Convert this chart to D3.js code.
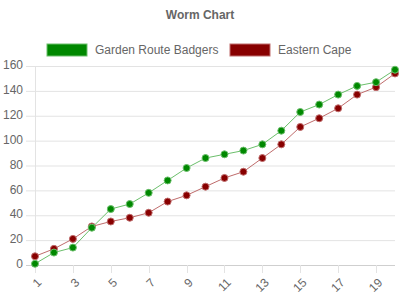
<!DOCTYPE html>
<html>
<head>
<meta charset="utf-8">
<script src="https://cdn.jsdelivr.net/npm/d3@7"></script>
<style>
  body { margin: 0; background: #fff; }
  #chart { width: 400px; height: 300px; }
  text { font-family: "Liberation Sans", Arial, sans-serif; }
</style>
</head>
<body>
<div id="chart"></div>
<script>
// datos
const rounds = d3.range(1, 21);
const seriesNames = ["Garden Route Badgers", "Eastern Cape"];
const badgers = [1, 10, 14, 30, 45, 49, 58, 68, 78, 86, 89, 92, 97, 108, 123, 129, 137, 144, 147, 157];
const easternCape = [7, 13, 21, 31, 35, 38, 42, 51, 56, 63, 70, 75, 86, 97, 111, 118, 126, 137, 143, 154];
const yTicks = [0, 20, 40, 60, 80, 100, 120, 140, 160];
const colors = ["#008800", "#880000"];
const lineColors = ["#6cbf6c", "#bf6c6c"];

const W = 400, H = 300;
const svg = d3.select("#chart").append("svg").attr("width", W).attr("height", H);

// título
svg.append("text")
  .attr("x", W / 2).attr("y", 16)
  .attr("text-anchor", "middle").attr("dominant-baseline", "middle")
  .attr("font-size", 12).attr("font-weight", "bold").attr("fill", "#666")
  .text("Worm Chart");

// leyenda
const legendX = [47, 230];
seriesNames.forEach((name, i) => {
  const g = svg.append("g").attr("transform", `translate(${legendX[i]},44)`);
  g.append("rect").attr("width", 40).attr("height", 12)
    .attr("fill", colors[i]).attr("stroke", lineColors[i]).attr("stroke-width", 1);
  g.append("text").attr("x", 48).attr("y", 6.5)
    .attr("dominant-baseline", "middle").attr("font-size", 12).attr("fill", "#666")
    .text(name);
});

const x = d3.scalePoint().domain(rounds).range([35, 395]);
const y = d3.scaleLinear().domain([0, 160]).range([265, 66]);

// rejilla Y
const gy = svg.append("g");
gy.selectAll("line").data(yTicks).join("line")
  .attr("x1", 26).attr("x2", 395)
  .attr("y1", d => y(d) + 0.5).attr("y2", d => y(d) + 0.5)
  .attr("stroke", d => d === 0 ? "#cfcfcf" : "#e3e3e3");
gy.selectAll("text").data(yTicks).join("text")
  .attr("x", 23).attr("y", d => y(d))
  .attr("text-anchor", "end").attr("dominant-baseline", "middle")
  .attr("font-size", 12).attr("fill", "#666")
  .text(d => d);

// eje izquierdo
svg.append("line").attr("x1", 35.5).attr("x2", 35.5).attr("y1", 66).attr("y2", 273)
  .attr("stroke", "#e3e3e3");

// ticks X (solo impares)
const shown = rounds.filter(d => d % 2 === 1);
const gx = svg.append("g");
gx.selectAll("line").data(shown.filter(d => d !== 1)).join("line")
  .attr("x1", d => Math.round(x(d)) + 0.5).attr("x2", d => Math.round(x(d)) + 0.5)
  .attr("y1", 265).attr("y2", 273)
  .attr("stroke", "#e3e3e3");
gx.selectAll("text").data(shown).join("text")
  .attr("transform", d => `translate(${x(d) + 5},281) rotate(-45)`)
  .attr("text-anchor", "end").attr("dominant-baseline", "middle")
  .attr("font-size", 12).attr("fill", "#666")
  .text(d => d);

// series
const seriesData = [badgers, easternCape];
const line = d3.line().x((d, i) => x(rounds[i])).y(d => y(d));

// se dibuja primero el rojo, luego el verde encima
[1, 0].forEach(s => {
  const g = svg.append("g");
  g.append("path").attr("d", line(seriesData[s]))
    .attr("fill", "none").attr("stroke", lineColors[s]).attr("stroke-width", 1);
  g.selectAll("circle").data(seriesData[s]).join("circle")
    .attr("cx", (d, i) => x(rounds[i])).attr("cy", d => y(d))
    .attr("r", 3.5)
    .attr("fill", colors[s]).attr("stroke", lineColors[s]).attr("stroke-width", 1);
});
</script>
</body>
</html>
